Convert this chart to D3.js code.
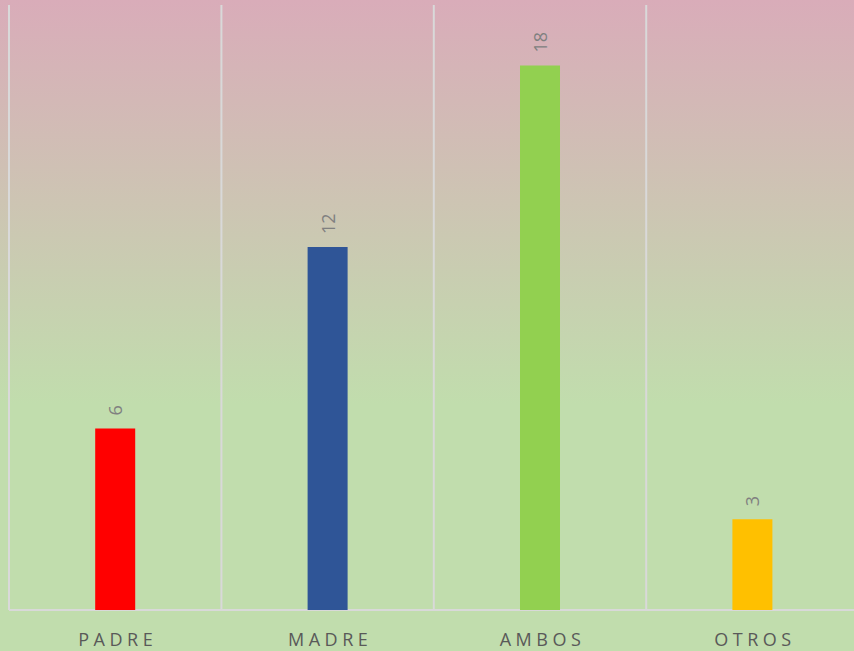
<!DOCTYPE html>
<html>
<head>
<meta charset="utf-8">
<script src="https://cdn.jsdelivr.net/npm/d3@7"></script>
<style>
html,body{margin:0;padding:0;overflow:hidden;}
svg{display:block;}
</style>
</head>
<body>
<svg id="chart" width="854" height="651"></svg>
<script>
const categories = ["PADRE", "MADRE", "AMBOS", "OTROS"];
const values = [6, 12, 18, 3];
const colors = ["#ff0000", "#2f5597", "#92d050", "#ffc000"];
const yDomain = [0, 20];

const W = 854, H = 651;
const svg = d3.select("#chart");

const defs = svg.append("defs");
const grad = defs.append("linearGradient").attr("id","bg").attr("x1",0).attr("y1",0).attr("x2",0).attr("y2",1);
grad.append("stop").attr("offset","0").attr("stop-color","#d9acb9");
grad.append("stop").attr("offset","0.62").attr("stop-color","#c1ddad");
grad.append("stop").attr("offset","1").attr("stop-color","#c1ddad");
svg.append("rect").attr("width",W).attr("height",H).attr("fill","url(#bg)");

const x = d3.scaleBand().domain(categories).range([9, 858.6]).padding(0);
const y = d3.scaleLinear().domain(yDomain).range([610, 5]);

// vertical gridlines at category boundaries
const bounds = categories.map(c => x(c)).concat([x.range()[1]]);
svg.append("g").selectAll("line").data(bounds).join("line")
  .attr("x1", d => d).attr("x2", d => d)
  .attr("y1", y(yDomain[1])).attr("y2", y(0))
  .attr("stroke", "#d9d9d9").attr("stroke-width", 2);

// baseline
svg.append("line").attr("x1", x.range()[0]).attr("x2", x.range()[1])
  .attr("y1", y(0)).attr("y2", y(0)).attr("stroke", "#d9d9d9").attr("stroke-width", 2);

const barW = 40;
svg.append("g").selectAll("rect").data(categories).join("rect")
  .attr("x", (d) => x(d) + x.bandwidth()/2 - barW/2)
  .attr("y", (d,i) => y(values[i]))
  .attr("width", barW)
  .attr("height", (d,i) => y(0) - y(values[i]))
  .attr("fill", (d,i) => colors[i]);

// data labels
svg.append("g").selectAll("text").data(categories).join("text")
  .attr("transform", (d,i) => `translate(${x(d) + x.bandwidth()/2},${y(values[i]) - 13}) rotate(-90)`)
  .attr("text-anchor", "start")
  .attr("dominant-baseline", "central")
  .attr("font-family", "'Open Sans', sans-serif")
  .attr("font-size", 18)
  .attr("fill", "#808080")
  .text((d,i) => values[i]);

// category axis
const xAxis = d3.axisBottom(x).tickSize(0).tickPadding(0);
const gx = svg.append("g").attr("transform", `translate(0,${y(0)})`).call(xAxis);
gx.select(".domain").remove();
gx.selectAll("text")
  .attr("y", 36)
  .attr("dy", 0)
  .attr("dx", "0.14em")
  .attr("font-family", "'Open Sans', sans-serif")
  .attr("font-size", 18)
  .attr("letter-spacing", "4.5px")
  .attr("fill", "#595959");
</script>
</body>
</html>
